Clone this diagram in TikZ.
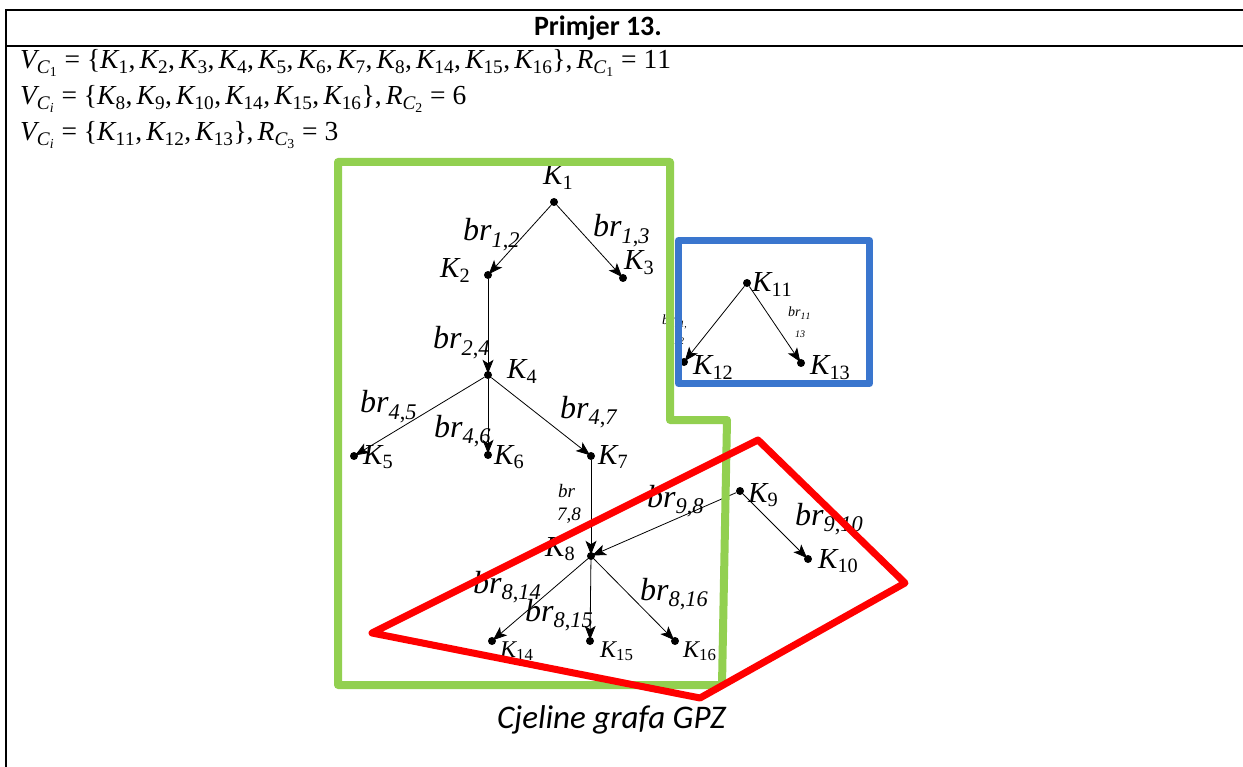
\documentclass[tikz,border=0pt]{standalone}
\usepackage[no-math]{fontspec}
\setmainfont{Carlito}
\newfontfamily\mathser[NFSSFamily=lsr]{Liberation Serif}
\DeclareSymbolFont{lsrit}{TU}{lsr}{m}{it}
\DeclareSymbolFont{lsrup}{TU}{lsr}{m}{n}
\DeclareMathAlphabet{\mathsit}{TU}{lsr}{m}{it}
\DeclareMathSymbol{K}{\mathalpha}{lsrit}{`K}
\DeclareMathSymbol{V}{\mathalpha}{lsrit}{`V}
\DeclareMathSymbol{C}{\mathalpha}{lsrit}{`C}
\DeclareMathSymbol{R}{\mathalpha}{lsrit}{`R}
\DeclareMathSymbol{b}{\mathalpha}{lsrit}{`b}
\DeclareMathSymbol{r}{\mathalpha}{lsrit}{`r}
\DeclareMathSymbol{i}{\mathalpha}{lsrit}{`i}
\DeclareMathSymbol{0}{\mathalpha}{lsrup}{`0}
\DeclareMathSymbol{1}{\mathalpha}{lsrup}{`1}
\DeclareMathSymbol{2}{\mathalpha}{lsrup}{`2}
\DeclareMathSymbol{3}{\mathalpha}{lsrup}{`3}
\DeclareMathSymbol{4}{\mathalpha}{lsrup}{`4}
\DeclareMathSymbol{5}{\mathalpha}{lsrup}{`5}
\DeclareMathSymbol{6}{\mathalpha}{lsrup}{`6}
\DeclareMathSymbol{7}{\mathalpha}{lsrup}{`7}
\DeclareMathSymbol{8}{\mathalpha}{lsrup}{`8}
\DeclareMathSymbol{9}{\mathalpha}{lsrup}{`9}
\DeclareMathSymbol{,}{\mathpunct}{lsrup}{`,}
\DeclareMathSymbol{=}{\mathrel}{lsrup}{`=}
\newcommand\lbrc{\mathopen{\mbox{\mathser\{}}}
\newcommand\rbrc{\mathclose{\mbox{\mathser\}}}}
\usetikzlibrary{arrows.meta}
\definecolor{gpzgreen}{RGB}{146,208,80}
\definecolor{gpzred}{RGB}{255,0,0}
\definecolor{gpzblue}{RGB}{58,118,206}
\begin{document}
\begin{tikzpicture}[x=1pt,y=-1pt,
  dot/.style={circle,fill=black,inner sep=0pt,minimum size=8pt},
  edge/.style={draw=black,line width=0.8pt,-{Stealth[length=14pt,width=11pt,inset=3.5pt]},shorten >=-3pt},
  klab/.style={inner sep=0pt,anchor=base west,font=\fontsize{29}{32}\selectfont},
  ksmall/.style={inner sep=0pt,anchor=base west,font=\fontsize{24}{28}\selectfont},
  blab/.style={inner sep=0pt,anchor=base west,font=\fontsize{32}{36}\selectfont},
  bsmall/.style={inner sep=0pt,anchor=base west,font=\fontsize{19}{22}\selectfont},
  btiny/.style={inner sep=0pt,anchor=base west,font=\fontsize{14}{16}\selectfont},
  bmini/.style={inner sep=0pt,anchor=base west,font=\fontsize{10}{12}\selectfont},
  hdr/.style={inner sep=0pt,anchor=base west,font=\fontsize{27.5}{30}\selectfont},
  region/.style={line width=#1,line join=round}]
\useasboundingbox (0,0) rectangle (1243,767);
% table frame
\draw[line width=2pt] (1243,10) -- (6,10) -- (6,767);
\draw[line width=2pt] (6,46) -- (1243,46);
\node[inner sep=0pt,anchor=base,font=\fontsize{28}{30}\selectfont\bfseries] (title) at (598,36) {Primjer 13.};
\node[hdr] (h1) at (20,69) {$V_{C_1}=\lbrc K_1,K_2,K_3,K_4,K_5,K_6,K_7,K_8,K_{14},K_{15},K_{16}\rbrc,R_{C_1}=11$};
\node[hdr] (h2) at (20,105) {$V_{C_i}=\lbrc K_8,K_9,K_{10},K_{14},K_{15},K_{16}\rbrc,R_{C_2}=6$};
\node[hdr] (h3) at (20,141) {$V_{C_i}=\lbrc K_{11},K_{12},K_{13}\rbrc,R_{C_3}=3$};
% vertices
\node[dot] (k1) at (554,202) {};
\node[dot] (k2) at (488,275) {};
\node[dot] (k3) at (623,278) {};
\node[dot] (k4) at (488,375) {};
\node[dot] (k5) at (354,456) {};
\node[dot] (k6) at (488,455) {};
\node[dot] (k7) at (591,456) {};
\node[dot] (k8) at (591,556) {};
\node[dot] (k9) at (740,491) {};
\node[dot] (k10) at (808,559) {};
\node[dot] (k11) at (747,283) {};
\node[dot] (k12) at (684,362) {};
\node[dot] (k13) at (801,363) {};
\node[dot] (k14) at (492,641) {};
\node[dot] (k15) at (590,641) {};
\node[dot] (k16) at (675,641) {};
% vertex labels
\node[klab] (l1) at (543,185) {$K_1$};
\node[klab] (l2) at (440,278) {$K_2$};
\node[klab] (l3) at (624,270) {$K_3$};
\node[klab] (l4) at (507,379) {$K_4$};
\node[klab] (l5) at (363,464) {$K_5$};
\node[klab] (l6) at (494,464) {$K_6$};
\node[klab] (l7) at (598,464) {$K_7$};
\node[klab] (l8) at (545,556) {$K_8$};
\node[klab] (l9) at (748,502) {$K_9$};
\node[klab] (l10) at (818,568) {$K_{10}$};
\node[klab] (l11) at (752,292) {$K_{11}$};
\node[klab] (l12) at (693,375) {$K_{12}$};
\node[klab] (l13) at (810,375) {$K_{13}$};
\node[ksmall] (l14) at (500,657) {$K_{14}$};
\node[ksmall] (l15) at (600,657) {$K_{15}$};
\node[ksmall] (l16) at (683,657) {$K_{16}$};
% edges
\draw[edge] (k1) -- (k2);
\draw[edge] (k1) -- (k3);
\draw[edge] (k2) -- (k4);
\draw[edge] (k4) -- (k5);
\draw[edge] (k4) -- (k6);
\draw[edge] (k4) -- (k7);
\draw[edge] (k7) -- (k8);
\draw[edge] (k9) -- (k8);
\draw[edge] (k9) -- (k10);
\draw[edge] (k8) -- (k14);
\draw[edge] (k8) -- (k15);
\draw[edge] (k8) -- (k16);
\draw[edge] (k11) -- (k12);
\draw[edge] (k11) -- (k13);
% edge labels
\node[blab] (b12) at (463,241) {$br_{\mathsit{1,2}}$};
\node[blab] (b13) at (593,237) {$br_{\mathsit{1,3}}$};
\node[blab] (b24) at (433,349) {$br_{\mathsit{2,4}}$};
\node[blab] (b45) at (360,413) {$br_{\mathsit{4,5}}$};
\node[blab] (b46) at (434,437) {$br_{\mathsit{4,6}}$};
\node[blab] (b47) at (560,418) {$br_{\mathsit{4,7}}$};
\node[bsmall] (b78a) at (558,497) {$br$};
\node[bsmall] (b78b) at (557,520) {$\mathsit{7{,}8}$};
\node[blab] (b98) at (647,507) {$br_{\mathsit{9,8}}$};
\node[blab] (b910) at (795,525) {$br_{\mathsit{9,10}}$};
\node[blab] (b814) at (473,593) {$br_{\mathsit{8,14}}$};
\node[blab] (b815) at (525,621) {$br_{\mathsit{8,15}}$};
\node[blab] (b816) at (640,600) {$br_{\mathsit{8,16}}$};
\node[btiny] (b1112a) at (662,325) {$br_{\mathsit{11,}}$};
\node[bmini] (b1112b) at (674,345) {$\mathsit{12}$};
\node[btiny] (b1113a) at (788,317) {$br_{\mathsit{11}}$};
\node[bmini] (b1113b) at (795,338) {$\mathsit{13}$};
% regions
\draw[region=8pt,gpzgreen] (338,162) -- (670,162) -- (670,420) -- (727,420) -- (722,685) -- (338,685) -- cycle;
\draw[region=7pt,gpzblue] (678.5,240.5) rectangle (869.5,383.5);
\draw[region=7pt,gpzred] (372,633) -- (758,440) -- (905,583) -- (700,698) -- cycle;
\node[inner sep=0pt,anchor=base west,font=\fontsize{33}{36}\selectfont\itshape] (cap) at (497,728) {Cjeline grafa GPZ};
\end{tikzpicture}
\end{document}
